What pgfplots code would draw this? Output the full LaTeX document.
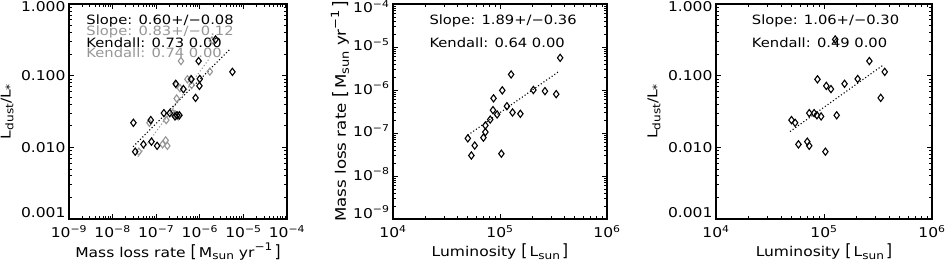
\documentclass[border=0pt]{standalone}
\usepackage{graphicx}
\usepackage{pgfplots}
\pgfplotsset{compat=1.18}
\usepackage{fontspec}
\setmainfont[FakeStretch=1.15]{DejaVu Sans}
\definecolor{grayp}{RGB}{150,150,150}
\newcommand{\ttt}[1]{10\textsuperscript{#1}}
\newcommand{\up}[2]{\raisebox{#1}[\height][\depth]{#2}}
\newcommand{\sbs}[1]{\raisebox{-0.38ex}{\scalebox{0.78}{#1}}}
\newcommand{\sps}[1]{\raisebox{0.85ex}{\scalebox{0.78}{#1}}}
\newcommand{\lb}{\scalebox{1}[1.25]{[}\,}
\newcommand{\rb}{\,\scalebox{1}[1.25]{]}}
\pgfplotsset{every axis/.append style={
  scale only axis, tick align=inside,
  axis line style={line width=1.1pt},
  every tick/.style={black, line width=0.8pt},
  major tick length=5pt, minor tick length=2.6pt,
  tick label style={font=\fontsize{13.5}{16}\selectfont},
  xticklabel style={yshift=-3pt},
  label style={font=\fontsize{13.5}{16}\selectfont},
  clip=false,
}}
\newcommand{\ann}{\fontsize{12.8}{15}\selectfont}
\begin{document}
\begin{tikzpicture}
\path[use as bounding box] (0,0) rectangle (945pt,262pt);
% ---------------- Panel 1
\begin{axis}[xmode=log, ymode=log, anchor=south west, at={(69pt,43pt)}, width=218pt, height=215pt,
  xmin=1e-9, xmax=1e-4, ymin=1e-3, ymax=1,
  xtick={1e-9,1e-8,1e-7,1e-6,1e-5,1e-4},
  xticklabels={\ttt{−9},\ttt{−8},\ttt{−7},\ttt{−6},\ttt{−5},\ttt{−4}},
  minor xtick={2e-9,3e-9,4e-9,5e-9,6e-9,7e-9,8e-9,9e-9,2e-8,3e-8,4e-8,5e-8,6e-8,7e-8,8e-8,9e-8,2e-7,3e-7,4e-7,5e-7,6e-7,7e-7,8e-7,9e-7,2e-6,3e-6,4e-6,5e-6,6e-6,7e-6,8e-6,9e-6,2e-5,3e-5,4e-5,5e-5,6e-5,7e-5,8e-5,9e-5},
  ytick={1e-3,1e-2,1e-1,1},
  yticklabels={\up{6pt}{0.001},0.010,0.100,\up{-3pt}{1.000}},
  minor ytick={2e-3,3e-3,4e-3,5e-3,6e-3,7e-3,8e-3,9e-3,2e-2,3e-2,4e-2,5e-2,6e-2,7e-2,8e-2,9e-2,0.2,0.3,0.4,0.5,0.6,0.7,0.8,0.9},
  xlabel={Mass loss rate \lb M\sbs{sun} yr\sps{−1}\rb},
  ylabel={L\sbs{dust}/L\sbs{*}},
  xlabel style={at={(axis description cs:0.5,-0.152)}, anchor=center},
  ylabel style={at={(axis description cs:-0.284,0.5)}, anchor=center},
]
\addplot[grayp, line width=1.1pt, dash pattern=on 1.1pt off 2.2pt] coordinates {(3.8e-8,0.0074) (1.7e-6,0.178)};
\addplot[black, line width=1.1pt, dash pattern=on 1.1pt off 2.2pt] coordinates {(2.95e-8,0.0102) (4.9e-6,0.234)};
\addplot[only marks, mark=diamond, mark size=3.6pt, mark options={draw=grayp, fill=none, line width=1.1pt}] coordinates {
(1.7e-7,0.024) (7.0e-8,0.022) (1.4e-7,0.011) (1.65e-7,0.0125) (1.8e-7,0.0105)
(2.4e-7,0.030) (2.7e-7,0.029) (3.0e-7,0.028) (3.2e-7,0.027) (5.2e-7,0.089)
(4.0e-8,0.0087) (6.5e-7,0.074) (3.5e-7,0.067) (1.9e-6,0.31) (3.4e-7,0.028)
(2.9e-7,0.075) (6.2e-7,0.090) (3.7e-7,0.16) (2.95e-7,0.048) (1.7e-6,0.114)};
\addplot[only marks, mark=diamond, mark size=3.6pt, mark options={draw=black, fill=none, line width=1.1pt}] coordinates {
(7.5e-8,0.024) (3.0e-8,0.022) (5.1e-8,0.011) (7.8e-8,0.012) (1.05e-7,0.0105)
(1.5e-7,0.030) (2.05e-7,0.030) (3.4e-7,0.028) (2.7e-7,0.027) (6.4e-7,0.089)
(3.3e-8,0.0087) (9.8e-7,0.072) (4.2e-7,0.065) (2.3e-6,0.32) (3.0e-7,0.028)
(2.8e-7,0.077) (1.0e-6,0.090) (9.4e-7,0.16) (8.0e-7,0.049) (5.6e-6,0.113)};
\node[anchor=west, font=\ann, black] at (axis description cs:0.064,0.921) {Slope: 0.60+/−0.08};
\node[anchor=west, font=\ann, grayp] at (axis description cs:0.064,0.870) {Slope: 0.83+/−0.12};
\node[anchor=west, font=\ann, black] at (axis description cs:0.064,0.819) {Kendall: 0.73 0.00};
\node[anchor=west, font=\ann, grayp] at (axis description cs:0.064,0.772) {Kendall: 0.74 0.00};
\end{axis}
% ---------------- Panel 2
\begin{axis}[xmode=log, ymode=log, anchor=south west, at={(393pt,43pt)}, width=214pt, height=215pt,
  xmin=1e4, xmax=1e6, ymin=1e-9, ymax=1e-4,
  xtick={1e4,1e5,1e6},
  xticklabels={\ttt{4},\ttt{5},\ttt{6}},
  minor xtick={2e4,3e4,4e4,5e4,6e4,7e4,8e4,9e4,2e5,3e5,4e5,5e5,6e5,7e5,8e5,9e5},
  ytick={1e-9,1e-8,1e-7,1e-6,1e-5,1e-4},
  yticklabels={\up{5pt}{\ttt{−9}},\ttt{−8},\ttt{−7},\ttt{−6},\ttt{−5},\up{-5pt}{\ttt{−4}}},
  yticklabel style={yshift=2pt},
  minor ytick={2e-9,3e-9,4e-9,5e-9,6e-9,7e-9,8e-9,9e-9,2e-8,3e-8,4e-8,5e-8,6e-8,7e-8,8e-8,9e-8,2e-7,3e-7,4e-7,5e-7,6e-7,7e-7,8e-7,9e-7,2e-6,3e-6,4e-6,5e-6,6e-6,7e-6,8e-6,9e-6,2e-5,3e-5,4e-5,5e-5,6e-5,7e-5,8e-5,9e-5},
  xlabel={Luminosity \lb L\sbs{sun}\rb},
  ylabel={Mass loss rate \lb M\sbs{sun} yr\sps{−1}\rb},
  xlabel style={at={(axis description cs:0.5,-0.152)}, anchor=center},
  ylabel style={at={(axis description cs:-0.248,0.5)}, anchor=center, font=\fontsize{14.5}{17}\selectfont},
]
\addplot[black, line width=1.1pt, dash pattern=on 1.1pt off 2.2pt] coordinates {(5.0e4,8.9e-8) (3.55e5,2.7e-6)};
\addplot[only marks, mark=diamond, mark size=3.6pt, mark options={draw=black, fill=none, line width=1.1pt}] coordinates {
(5.0e4,7.5e-8) (5.4e4,3.0e-8) (5.8e4,5.1e-8) (7.0e4,7.8e-8) (7.3e4,1.05e-7)
(7.3e4,1.5e-7) (8.1e4,2.05e-7) (8.6e4,3.4e-7) (9.4e4,2.7e-7) (8.7e4,6.4e-7)
(1.03e5,3.3e-8) (1.05e5,9.8e-7) (1.16e5,4.2e-7) (1.27e5,2.3e-6) (1.31e5,3.0e-7)
(1.55e5,2.8e-7) (2.05e5,1.0e-6) (2.63e5,9.4e-7) (3.35e5,8.0e-7) (3.65e5,5.6e-6)};
\node[anchor=west, font=\ann] at (axis description cs:0.154,0.921) {Slope: 1.89+/−0.36};
\node[anchor=west, font=\ann] at (axis description cs:0.154,0.819) {Kendall: 0.64 0.00};
\end{axis}
% ---------------- Panel 3
\begin{axis}[xmode=log, ymode=log, anchor=south west, at={(716pt,43pt)}, width=216pt, height=215pt,
  xmin=1e4, xmax=1e6, ymin=1e-3, ymax=1,
  xtick={1e4,1e5,1e6},
  xticklabels={\ttt{4},\ttt{5},\ttt{6}},
  minor xtick={2e4,3e4,4e4,5e4,6e4,7e4,8e4,9e4,2e5,3e5,4e5,5e5,6e5,7e5,8e5,9e5},
  ytick={1e-3,1e-2,1e-1,1},
  yticklabels={\up{6pt}{0.001},0.010,0.100,\up{-3pt}{1.000}},
  minor ytick={2e-3,3e-3,4e-3,5e-3,6e-3,7e-3,8e-3,9e-3,2e-2,3e-2,4e-2,5e-2,6e-2,7e-2,8e-2,9e-2,0.2,0.3,0.4,0.5,0.6,0.7,0.8,0.9},
  xlabel={Luminosity \lb L\sbs{sun}\rb},
  ylabel={L\sbs{dust}/L\sbs{*}},
  xlabel style={at={(axis description cs:0.5,-0.152)}, anchor=center},
  ylabel style={at={(axis description cs:-0.287,0.5)}, anchor=center},
]
\addplot[black, line width=1.1pt, dash pattern=on 1.1pt off 2.2pt] coordinates {(4.84e4,0.0166) (3.54e5,0.141)};
\addplot[only marks, mark=diamond, mark size=3.6pt, mark options={draw=black, fill=none, line width=1.1pt}] coordinates {
(5.0e4,0.024) (5.4e4,0.022) (5.8e4,0.011) (7.0e4,0.012) (7.3e4,0.0105)
(7.3e4,0.030) (8.1e4,0.030) (8.6e4,0.028) (9.4e4,0.027) (8.7e4,0.089)
(1.03e5,0.0087) (1.05e5,0.072) (1.16e5,0.065) (1.27e5,0.32) (1.31e5,0.028)
(1.55e5,0.077) (2.05e5,0.090) (2.63e5,0.16) (3.35e5,0.049) (3.65e5,0.113)};
\node[anchor=west, font=\ann] at (axis description cs:0.150,0.921) {Slope: 1.06+/−0.30};
\node[anchor=west, font=\ann] at (axis description cs:0.150,0.819) {Kendall: 0.49 0.00};
\end{axis}
\end{tikzpicture}
\end{document}
